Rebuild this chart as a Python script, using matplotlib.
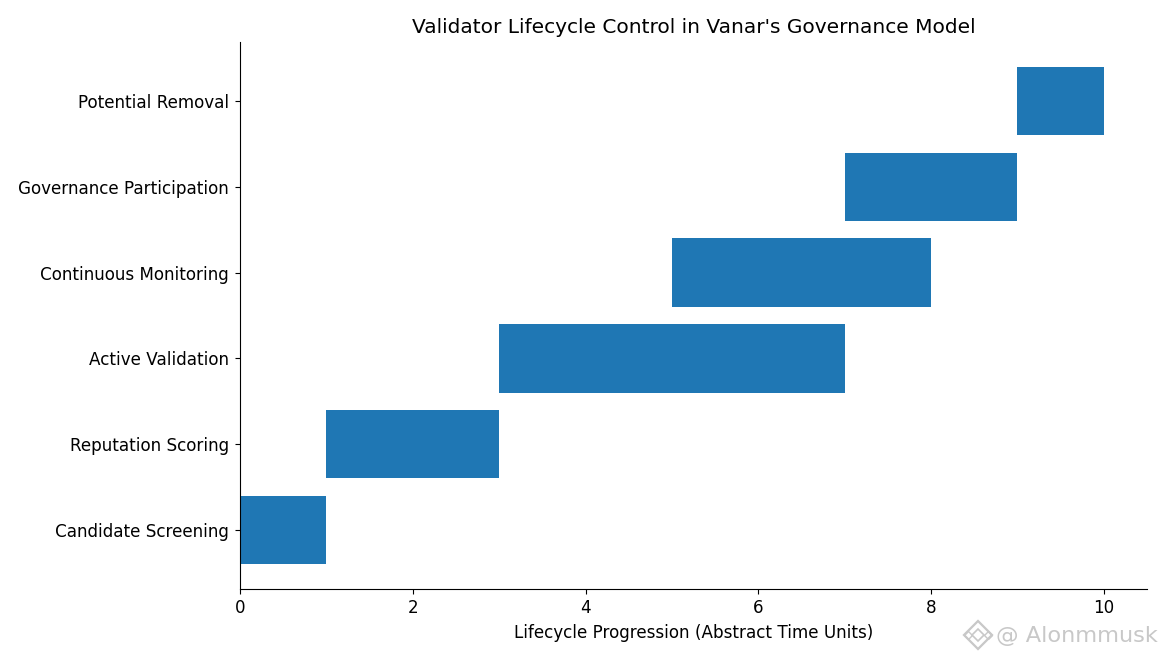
import matplotlib
matplotlib.use("Agg")
import matplotlib.pyplot as plt

stages = ["Candidate Screening", "Reputation Scoring", "Active Validation",
          "Continuous Monitoring", "Governance Participation", "Potential Removal"]
starts = [0, 1, 3, 5, 7, 9]
durations = [1, 2, 4, 3, 2, 1]
title = "Validator Lifecycle Control in Vanar's Governance Model"
xlabel = "Lifecycle Progression (Abstract Time Units)"
xticks = [0, 2, 4, 6, 8, 10]
watermark = "@ Alonmmusk"

W, H = 1165, 660
fig = plt.figure(figsize=(W / 100, H / 100), dpi=100)
ax = fig.add_axes([240 / W, 1 - 589 / H, (1147 - 240) / W, (589 - 42) / H])
ax.barh(stages, durations, left=starts, height=0.8, color="#1f77b4")
ax.set_xlim(0, 10.5)
ax.set_xticks(xticks)
ax.tick_params(labelsize=12.1)
ax.tick_params(axis="y", pad=4.6)
ax.set_xlabel(xlabel, fontsize=12.1, labelpad=5)
ax.set_title(title, fontsize=14.5, pad=6.5)
ax.spines["top"].set_visible(False)
ax.spines["right"].set_visible(False)

# Watermark: text plus a small outlined diamond logo, in figure pixels
wm_color = "#c8c8c8"
fig.text(996 / W, 1 - 636 / H, watermark, fontsize=16.2, color=wm_color, va="center", ha="left")
logo = fig.add_axes([960 / W, 1 - 652 / H, 36 / W, 36 / H])
logo.set_xlim(960, 996)
logo.set_ylim(652, 616)
logo.axis("off")
logo.plot([978], [635], marker="D", ms=14, mfc="none", mec=wm_color, mew=1.6)
logo.plot([978], [635], marker="D", ms=6, mfc="none", mec=wm_color, mew=1.2)
logo.plot([968, 988], [635, 635], ls="none", marker="D", ms=4, mfc="none", mec=wm_color, mew=1.0)
fig.savefig("out.png", dpi=100)
